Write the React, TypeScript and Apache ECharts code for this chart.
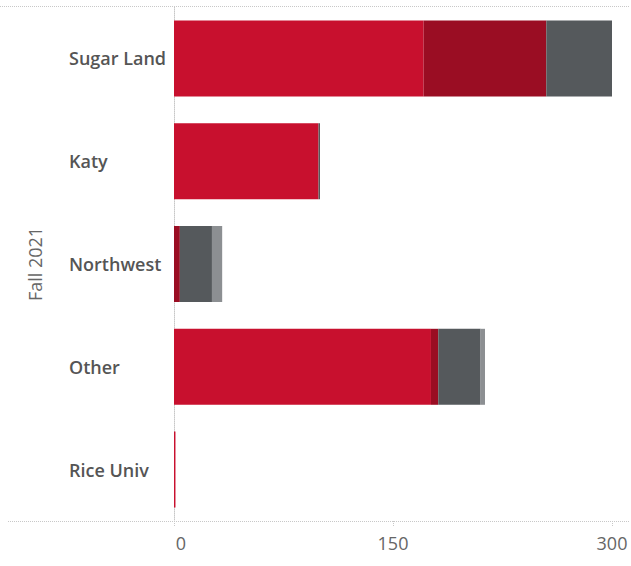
import React, { useEffect, useRef } from "react";
import * as echarts from "echarts";

const categories = ["Sugar Land", "Katy", "Northwest", "Other", "Rice Univ"];
const seriesNames = ["Group A", "Group B", "Group C", "Group D"];
const groupA = [171, 99, 0, 176, 1];
const groupB = [84, 0, 4, 5, 0];
const groupC = [45, 1, 22, 29, 0];
const groupD = [0, 0, 7, 3, 0];
const xTicks = [0, 150, 300];
const axisTitle = "Fall 2021";

const colors = ["#C8102E", "#9A0D23", "#55595C", "#8C8F92"];

export default function App() {
  const ref = useRef<HTMLDivElement>(null);
  useEffect(() => {
    if (!ref.current) return;
    const chart = echarts.init(ref.current, null, { renderer: "svg" });
    const dataSets = [groupA, groupB, groupC, groupD];
    const dotted = { color: "#c8c8c8", type: [1, 1] as any, width: 1 };
    chart.setOption({
      animation: false,
      textStyle: { fontFamily: "Open Sans" },
      grid: { left: 174, right: 19, top: 7, bottom: 45, containLabel: false },
      xAxis: {
        type: "value",
        min: xTicks[0],
        max: xTicks[xTicks.length - 1],
        interval: 150,
        axisLine: { show: false },
        axisTick: { show: true, length: 6, lineStyle: dotted },
        splitLine: { show: false },
        axisLabel: {
          color: "#666",
          fontSize: 18,
          margin: 13,
          formatter: (v: number) => (v === 0 ? "{a|" + v + "}" : "{b|" + v + "}"),
          rich: {
            a: { color: "#666", fontSize: 18, fontFamily: "Open Sans", padding: [0, 0, 0, 14] },
            b: { color: "#666", fontSize: 18, fontFamily: "Open Sans" },
          },
        },
      },
      yAxis: {
        type: "category",
        data: categories,
        inverse: true,
        name: axisTitle,
        nameLocation: "middle",
        nameGap: 130,
        nameRotate: 90,
        nameTextStyle: { color: "#666", fontSize: 18, fontFamily: "Open Sans" },
        axisLine: { show: true, lineStyle: dotted },
        axisTick: { show: false },
        splitLine: { show: false },
        axisLabel: {
          align: "left",
          margin: 105,
          color: "#555",
          fontSize: 18,
          fontWeight: 600,
          fontFamily: "Open Sans",
        },
      },
      graphic: [
        { type: "line", shape: { x1: 0, y1: 6.5, x2: 629, y2: 6.5 }, style: { stroke: "#c8c8c8", lineDash: [1, 1], lineWidth: 1 } },
        { type: "line", shape: { x1: 8, y1: 521.5, x2: 629, y2: 521.5 }, style: { stroke: "#c8c8c8", lineDash: [1, 1], lineWidth: 1 } },
      ],
      series: dataSets.map((d, i) => ({
        name: seriesNames[i],
        type: "bar",
        stack: "total",
        barWidth: 76,
        itemStyle: { color: colors[i] },
        data: d,
      })),
    });
    return () => chart.dispose();
  }, []);
  return <div ref={ref} style={{ width: 631, height: 566, position: "absolute", left: 0, top: 0 }} />;
}
